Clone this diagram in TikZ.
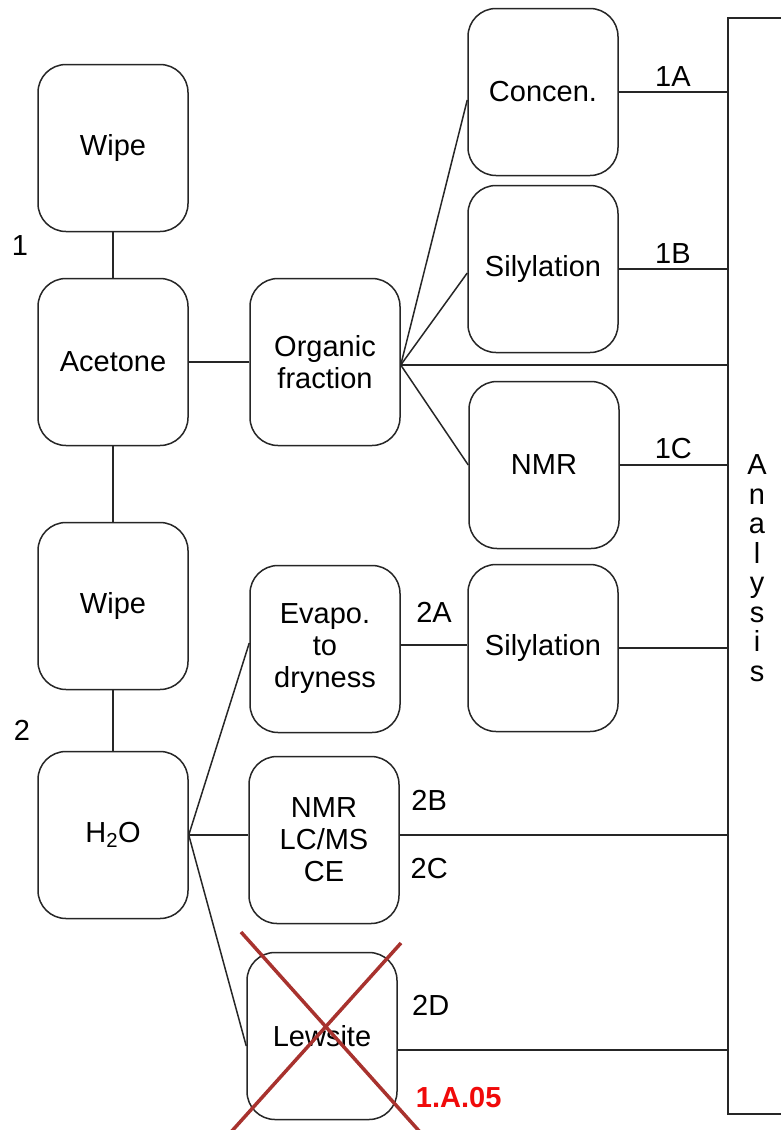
\documentclass[tikz,border=0pt]{standalone}
\usepackage{fontspec}
\setmainfont{Liberation Sans}
\usepackage{xcolor}
\usetikzlibrary{positioning}
\definecolor{crossred}{RGB}{168,50,46}
\definecolor{tagred}{RGB}{240,10,10}

\begin{document}
\begin{tikzpicture}[
  x=1pt, y=-1pt,
  font=\fontsize{29}{33}\selectfont,
  box/.style={draw=black!85, line width=1.5pt, rounded corners=28pt,
              minimum width=150pt, minimum height=167pt, align=center, inner sep=2pt},
  link/.style={draw=black!85, line width=1.5pt},
  lbl/.style={inner sep=2pt},
]
\useasboundingbox (0,0) rectangle (780,1130);
% left column
\node[box] (wipea) at (113,148) {Wipe};
\node[box] (acet) at (113,362) {Acetone};
\node[box] (wipeb) at (113,606) {Wipe};
\node[box] (water) at (113,835) {H\textsubscript{2}O};
\node[lbl] at (20,246) {1};
\node[lbl] at (22,730) {2};
% middle column
\node[box, font=\fontsize{29}{32}\selectfont] (orgf) at (325,362) {Organic\\fraction};
\node[box, font=\fontsize{29}{32}\selectfont] (evap) at (325,649) {Evapo.\\to\\dryness};
\node[box, font=\fontsize{29}{32}\selectfont] (nmrlc) at (324,840) {NMR\\LC/MS\\CE};
\node[box] (lews) at (322,1036) {Lewsite};
% right column
\node[box] (conc) at (543,92) {Concen.};
\node[box] (sila) at (543,269) {Silylation};
\node[box] (nmr) at (544,465) {NMR};
\node[box] (silb) at (543,648) {Silylation};
% analysis
\node[draw=black!85, line width=1.5pt, minimum width=80pt, minimum height=1096pt,
      anchor=north west, inner sep=0pt] (anal) at (727,17) {};
\node[align=center, font=\fontsize{29}{29.5}\selectfont] at (757,568) {A\\n\\a\\l\\y\\s\\i\\s};

% connectors
\draw[link] (wipea) -- (acet);
\draw[link] (acet) -- (wipeb);
\draw[link] (wipeb) -- (water);
\draw[link] (acet) -- (orgf);
\coordinate (fan) at ([yshift=-3pt]orgf.east);
\draw[link] (fan) -- ([yshift=-8pt]conc.west);
\draw[link] (fan) -- ([yshift=-4pt]sila.west);
\draw[link] (fan) -- (nmr.west);
\draw[link] (fan) -- (fan -| anal.west);
\draw[link] (conc.east) -- (conc.east -| anal.west) node[lbl, midway, above=3pt] {1A};
\draw[link] (sila.east) -- (sila.east -| anal.west) node[lbl, midway, above=3pt] {1B};
\draw[link] (nmr.east) -- (nmr.east -| anal.west) node[lbl, midway, above=3pt] {1C};
\draw[link] ([yshift=4pt]evap.east) -- ([yshift=3pt]silb.west) node[lbl, midway, above=20pt] {2A};
\draw[link] (silb.east) -- (silb.east -| anal.west);
\draw[link] (water.east) -- ([yshift=6pt]evap.west);
\draw[link] (water.east) -- (nmrlc.west |- water.east);
\draw[link] (water.east) -- ([yshift=-10pt]lews.west);
\draw[link] (nmrlc.east |- water.east) -- (water.east -| anal.west)
  node[lbl, pos=0.09, above=22pt] {2B}
  node[lbl, pos=0.09, below=20pt] {2C};
\draw[link] ([yshift=-14pt]lews.east) -- ([yshift=-14pt]lews.east -| anal.west)
  node[lbl, pos=0.1, above=32pt] {2D}
  node[lbl, pos=0.185, below=34pt, text=tagred, font=\fontsize{29}{33}\selectfont\bfseries] {1.A.05};

% crossed out
\draw[crossred, line width=3.5pt] (241,932) -- (420,1132);
\draw[crossred, line width=3.5pt] (401,943) -- (231,1132);
\end{tikzpicture}
\end{document}
